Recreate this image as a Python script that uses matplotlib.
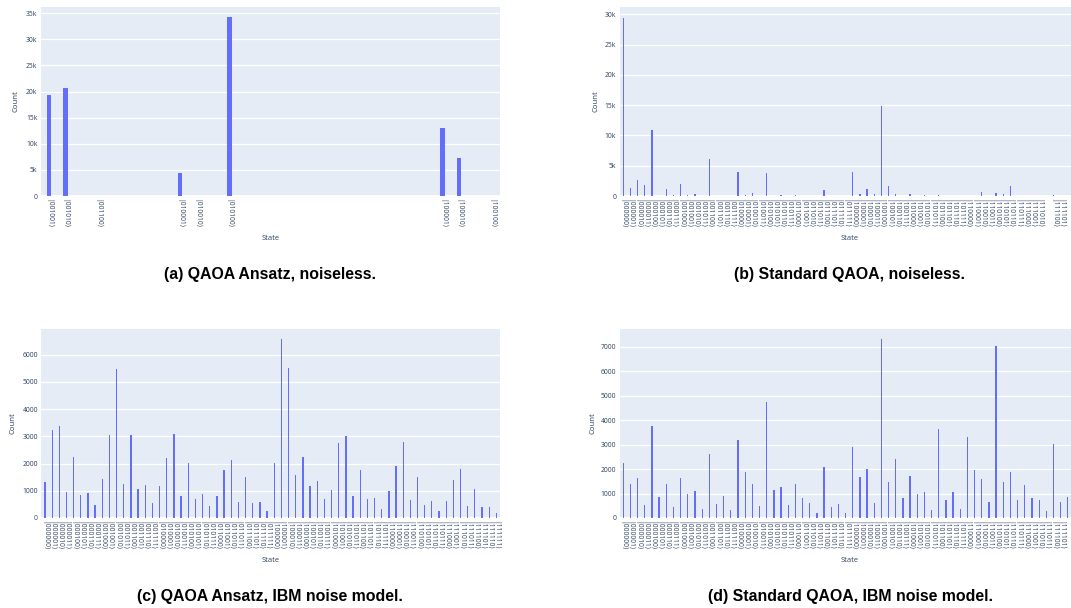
import matplotlib
matplotlib.use('Agg')
import matplotlib.pyplot as plt
from matplotlib.ticker import FuncFormatter, MultipleLocator

# ---------------- data ----------------
states_a = ['001001', '001010', '001100', '010001', '010010', '010100',
            '100001', '100010', '100100']
counts_a = [19400, 20750, 60, 4500, 40, 34200, 13000, 7340, 40]

states_all = [format(i, '06b') for i in range(64)]

states_b = [s for s in states_all if s != '111011']
counts_b = [29400, 1290, 2700, 1740, 10900, 30, 1180, 170,
            2000, 220, 340, 60, 6070, 30, 20, 10,
            3880, 170, 500, 30, 3760, 30, 170, 10,
            170, 30, 10, 10, 1010, 20, 10, 50,
            3880, 400, 1180, 340, 14800, 1690, 340, 20,
            340, 20, 170, 20, 170, 10, 10, 50,
            10, 20, 670, 20, 500, 340, 1690, 50,
            50, 10, 20, 170, 20, 20, 20]

states_c = states_all
counts_c = [1330, 3230, 3370, 970, 2230, 845, 930, 465,
            1445, 3060, 5470, 1250, 3040, 1065, 1210, 550,
            1190, 2220, 3090, 800, 2010, 700, 890, 430,
            810, 1750, 2120, 590, 1490, 560, 590, 260,
            2010, 6575, 5510, 1590, 2250, 1190, 1370, 700,
            1020, 2740, 3020, 820, 1760, 700, 750, 340,
            980, 1920, 2800, 660, 1490, 480, 620, 260,
            620, 1400, 1800, 440, 1065, 390, 400, 180]

states_d = states_all
counts_d = [2230, 1400, 1630, 530, 3770, 860, 1390, 460,
            1630, 990, 1100, 350, 2630, 590, 900, 330,
            3170, 1880, 1400, 500, 4750, 1140, 1270, 530,
            1400, 830, 610, 200, 2100, 440, 590, 200,
            2900, 1660, 2000, 610, 7310, 1480, 2400, 820,
            1720, 970, 1060, 330, 3640, 740, 1060, 370,
            3310, 1970, 1590, 640, 7030, 1480, 1870, 720,
            1360, 800, 740, 270, 3040, 650, 840, 700]

captions = ['(a) QAOA Ansatz, noiseless.',
            '(b) Standard QAOA, noiseless.',
            '(c) QAOA Ansatz, IBM noise model.',
            '(d) Standard QAOA, IBM noise model.']

# ---------------- style ----------------
W, H = 1071, 608
fig = plt.figure(figsize=(W / 100, H / 100), dpi=100)
BG = '#E5ECF6'
BAR = '#636EFA'
TXT = '#2a3f5f'
FONT = ['Open Sans', 'DejaVu Sans']


def ket(s):
    return '|' + s + '\u27e9'


def kfmt(v, _):
    if v == 0:
        return '0'
    return '%dk' % round(v / 1000)


def panel(rect_px, states, counts, ymax, ystep, use_k, width, ylab_dx):
    l, t, w, h = rect_px
    ax = fig.add_axes([l / W, 1 - (t + h) / H, w / W, h / H])
    ax.set_facecolor(BG)
    for s in ax.spines.values():
        s.set_visible(False)
    pos = [int(s, 2) for s in states]
    ax.bar(pos, counts, width=width, color=BAR, linewidth=0, zorder=3)
    ax.set_xlim(min(pos) - 0.5, max(pos) + 0.5)
    ax.set_ylim(0, ymax)
    ax.yaxis.set_major_locator(MultipleLocator(ystep))
    if use_k:
        ax.yaxis.set_major_formatter(FuncFormatter(kfmt))
    ax.grid(axis='y', color='white', linewidth=0.9, zorder=0)
    ax.set_axisbelow(True)
    ax.axhline(0, color='white', linewidth=1.5, zorder=1)
    # only label ticks that fall inside the visible picture
    vis = [(p, s) for p, s in zip(pos, states)
           if l + (p - (min(pos) - 0.5)) / (max(pos) - min(pos) + 1) * w < W - 4]
    ax.set_xticks([p for p, _ in vis])
    ax.set_xticklabels([ket(s) for _, s in vis], rotation=-90,
                       family=FONT, fontsize=4.8, color=TXT, va='top')
    ax.tick_params(axis='x', length=0, pad=2.5)
    ax.tick_params(axis='y', length=0, pad=2.5, labelsize=4.9, labelcolor=TXT)
    for lab in ax.get_yticklabels():
        lab.set_family(FONT)
    ax.set_ylabel('Count', family=FONT, fontsize=5.6, color=TXT)
    ax.yaxis.set_label_coords(ylab_dx / w, 0.5)
    ax.set_xlabel('State', family=FONT, fontsize=5.4, color=TXT)
    ax.xaxis.set_label_coords(0.5, -42 / h)
    ax.xaxis.label.set_va('center')
    return ax


panel((40.8, 7, 459.2, 189), states_a, counts_a, 36200, 5000, True, 0.28, -21)
panel((619.7, 7, 458.9, 189), states_b, counts_b, 31200, 5000, True, 0.18, -20)
panel((41.4, 329, 458.5, 189), states_c, counts_c, 6940, 1000, False, 0.18, -25)
panel((619.7, 329, 458.9, 189), states_d, counts_d, 7720, 1000, False, 0.18, -23)

cap_pos = [(270, 275), (850, 275), (270, 597), (850, 597)]
for txt, (x, y) in zip(captions, cap_pos):
    fig.text(x / W, 1 - y / H, txt, ha='center', va='center',
             fontsize=11.4, fontweight='bold', family='Liberation Sans',
             color='black')

fig.savefig('out.png', dpi=100, facecolor='white')
